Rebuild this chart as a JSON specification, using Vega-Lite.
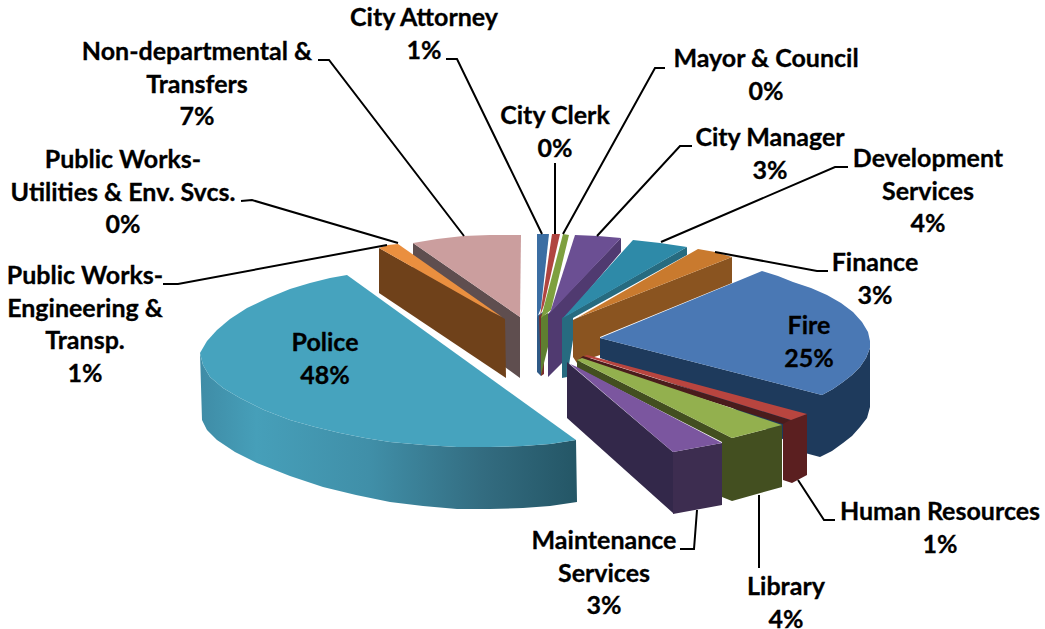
{
  "$schema": "https://vega.github.io/schema/vega-lite/v6.json",
  "width": 1045,
  "height": 629,
  "padding": 0,
  "autosize": {"type": "none"},
  "background": "white",
  "view": {"stroke": null},
  "datasets": {
    "faces": [
      {"p":"nd_wall","x":413,"y":243},{"p":"nd_wall","x":520,"y":317},{"p":"nd_wall","x":520,"y":378},{"p":"nd_wall","x":413,"y":300},
      {"p":"nd_top","x":413,"y":243},{"p":"nd_top","x":437,"y":239},{"p":"nd_top","x":463,"y":236},{"p":"nd_top","x":490,"y":235},{"p":"nd_top","x":521,"y":235},{"p":"nd_top","x":520,"y":317},
      {"p":"eng_wall","x":379,"y":248},{"p":"eng_wall","x":505,"y":319},{"p":"eng_wall","x":506,"y":378},{"p":"eng_wall","x":379,"y":293},
      {"p":"eng_top","x":379,"y":248},{"p":"eng_top","x":388,"y":245},{"p":"eng_top","x":398,"y":244},{"p":"eng_top","x":502,"y":317},{"p":"eng_top","x":490,"y":311},
      {"p":"att_wall","x":537,"y":316},{"p":"att_wall","x":543,"y":312},{"p":"att_wall","x":543,"y":370},{"p":"att_wall","x":541,"y":376},{"p":"att_wall","x":537,"y":372},
      {"p":"att_top","x":537,"y":234},{"p":"att_top","x":549,"y":234},{"p":"att_top","x":541,"y":308},{"p":"att_top","x":537,"y":318},
      {"p":"clk_wall","x":539,"y":316},{"p":"clk_wall","x":544,"y":312},{"p":"clk_wall","x":544,"y":374},{"p":"clk_wall","x":541,"y":376},
      {"p":"clk_top","x":552,"y":234},{"p":"clk_top","x":560,"y":234},{"p":"clk_top","x":544,"y":305},{"p":"clk_top","x":540,"y":316},
      {"p":"may_wall","x":541,"y":317},{"p":"may_wall","x":548,"y":313},{"p":"may_wall","x":548,"y":347},{"p":"may_wall","x":541,"y":375},
      {"p":"may_top","x":563,"y":234},{"p":"may_top","x":569,"y":235},{"p":"may_top","x":551,"y":310},{"p":"may_top","x":541,"y":318},
      {"p":"mgr_wall","x":621,"y":238},{"p":"mgr_wall","x":621,"y":252},{"p":"mgr_wall","x":565,"y":318},{"p":"mgr_wall","x":562,"y":363},{"p":"mgr_wall","x":548,"y":377},{"p":"mgr_wall","x":548,"y":314},
      {"p":"mgr_top","x":575,"y":235},{"p":"mgr_top","x":598,"y":236},{"p":"mgr_top","x":621,"y":238},{"p":"mgr_top","x":550,"y":313},
      {"p":"dev_wall","x":687,"y":247},{"p":"dev_wall","x":687,"y":255},{"p":"dev_wall","x":573,"y":318},{"p":"dev_wall","x":573,"y":340},{"p":"dev_wall","x":567,"y":377},{"p":"dev_wall","x":562,"y":378},{"p":"dev_wall","x":562,"y":318},
      {"p":"dev_top","x":633,"y":240},{"p":"dev_top","x":660,"y":243},{"p":"dev_top","x":687,"y":247},{"p":"dev_top","x":563,"y":318},
      {"p":"fin_wall","x":577,"y":318},{"p":"fin_wall","x":732,"y":257},{"p":"fin_wall","x":732,"y":283},{"p":"fin_wall","x":600,"y":337},{"p":"fin_wall","x":600,"y":355},{"p":"fin_wall","x":577,"y":363},{"p":"fin_wall","x":573,"y":357},{"p":"fin_wall","x":573,"y":320},
      {"p":"fin_top","x":698,"y":249},{"p":"fin_top","x":715,"y":252},{"p":"fin_top","x":732,"y":257},{"p":"fin_top","x":577,"y":318},
      {"p":"fire_wall","x":600,"y":338},{"p":"fire_wall","x":822,"y":395},{"p":"fire_wall","x":833,"y":389},{"p":"fire_wall","x":843,"y":382},{"p":"fire_wall","x":852,"y":375},{"p":"fire_wall","x":860,"y":367},{"p":"fire_wall","x":866,"y":358},{"p":"fire_wall","x":870,"y":348},{"p":"fire_wall","x":870,"y":407},{"p":"fire_wall","x":867,"y":418},{"p":"fire_wall","x":860,"y":427},{"p":"fire_wall","x":852,"y":436},{"p":"fire_wall","x":843,"y":443},{"p":"fire_wall","x":832,"y":451},{"p":"fire_wall","x":820,"y":457},{"p":"fire_wall","x":805,"y":453},{"p":"fire_wall","x":720,"y":400},{"p":"fire_wall","x":600,"y":358},
      {"p":"fire_top","x":600,"y":338},{"p":"fire_top","x":762,"y":271},{"p":"fire_top","x":778,"y":276},{"p":"fire_top","x":793,"y":282},{"p":"fire_top","x":811,"y":288},{"p":"fire_top","x":827,"y":295},{"p":"fire_top","x":841,"y":303},{"p":"fire_top","x":853,"y":312},{"p":"fire_top","x":862,"y":322},{"p":"fire_top","x":868,"y":332},{"p":"fire_top","x":870,"y":341},{"p":"fire_top","x":870,"y":348},{"p":"fire_top","x":866,"y":358},{"p":"fire_top","x":860,"y":367},{"p":"fire_top","x":852,"y":375},{"p":"fire_top","x":843,"y":382},{"p":"fire_top","x":833,"y":389},{"p":"fire_top","x":822,"y":395},
      {"p":"hr_wall","x":783,"y":423},{"p":"hr_wall","x":790,"y":420},{"p":"hr_wall","x":807,"y":414},{"p":"hr_wall","x":807,"y":475},{"p":"hr_wall","x":792,"y":483},{"p":"hr_wall","x":783,"y":480},
      {"p":"hr_strip","x":583,"y":356},{"p":"hr_strip","x":790,"y":420},{"p":"hr_strip","x":783,"y":424},{"p":"hr_strip","x":578,"y":360},
      {"p":"hr_top","x":584,"y":356},{"p":"hr_top","x":587,"y":355},{"p":"hr_top","x":807,"y":414},{"p":"hr_top","x":791,"y":420},
      {"p":"lib_wall","x":577,"y":360},{"p":"lib_wall","x":732,"y":438},{"p":"lib_wall","x":782,"y":425},{"p":"lib_wall","x":782,"y":487},{"p":"lib_wall","x":732,"y":501},{"p":"lib_wall","x":722,"y":497},{"p":"lib_wall","x":722,"y":442},{"p":"lib_wall","x":577,"y":368},
      {"p":"lib_top","x":577,"y":360},{"p":"lib_top","x":582,"y":358},{"p":"lib_top","x":782,"y":425},{"p":"lib_top","x":732,"y":438},
      {"p":"mnt_side","x":567,"y":362},{"p":"mnt_side","x":673,"y":452},{"p":"mnt_side","x":673,"y":513},{"p":"mnt_side","x":567,"y":418},
      {"p":"mnt_front","x":673,"y":452},{"p":"mnt_front","x":722,"y":443},{"p":"mnt_front","x":722,"y":505},{"p":"mnt_front","x":673,"y":514},
      {"p":"mnt_top","x":570,"y":364},{"p":"mnt_top","x":577,"y":367},{"p":"mnt_top","x":722,"y":443},{"p":"mnt_top","x":673,"y":452}
    ],
    "policeWall": [
      {"x":200,"y":353},{"x":203,"y":365},{"x":210,"y":377},{"x":223,"y":388},{"x":240,"y":398},{"x":264,"y":410},{"x":290,"y":420},{"x":315,"y":427},{"x":340,"y":433},{"x":365,"y":438},{"x":390,"y":442},{"x":424,"y":445},{"x":457,"y":447},{"x":490,"y":447},{"x":523,"y":446},{"x":550,"y":444},{"x":576,"y":440},{"x":577,"y":502},{"x":550,"y":506},{"x":523,"y":508},{"x":490,"y":509},{"x":457,"y":509},{"x":423,"y":506},{"x":390,"y":502},{"x":356,"y":495},{"x":323,"y":487},{"x":290,"y":476},{"x":257,"y":463},{"x":235,"y":452},{"x":217,"y":440},{"x":207,"y":430},{"x":202,"y":420}
    ],
    "policeTop": [
      {"x":347,"y":275},{"x":330,"y":278},{"x":310,"y":283},{"x":290,"y":289},{"x":268,"y":298},{"x":247,"y":308},{"x":230,"y":319},{"x":217,"y":330},{"x":207,"y":341},{"x":200,"y":353},{"x":203,"y":365},{"x":210,"y":377},{"x":223,"y":388},{"x":240,"y":398},{"x":264,"y":410},{"x":290,"y":420},{"x":315,"y":427},{"x":340,"y":433},{"x":365,"y":438},{"x":390,"y":442},{"x":424,"y":445},{"x":457,"y":447},{"x":490,"y":447},{"x":523,"y":446},{"x":550,"y":444},{"x":576,"y":440}
    ],
    "leaders": [
      {"k":"Non-departmental","x":318,"y":60},{"k":"Non-departmental","x":329,"y":60},{"k":"Non-departmental","x":464,"y":236},
      {"k":"City Attorney","x":446,"y":59},{"k":"City Attorney","x":457,"y":59},{"k":"City Attorney","x":542,"y":234},
      {"k":"Utilities","x":241,"y":201},{"k":"Utilities","x":252,"y":200},{"k":"Utilities","x":398,"y":243},
      {"k":"Engineering","x":163,"y":284},{"k":"Engineering","x":178,"y":284},{"k":"Engineering","x":387,"y":245},
      {"k":"Mayor","x":665,"y":68},{"k":"Mayor","x":655,"y":68},{"k":"Mayor","x":563,"y":234},
      {"k":"City Clerk","x":555,"y":163},{"k":"City Clerk","x":555,"y":234},
      {"k":"City Manager","x":692,"y":146},{"k":"City Manager","x":680,"y":146},{"k":"City Manager","x":597,"y":236},
      {"k":"Development","x":848,"y":167},{"k":"Development","x":835,"y":167},{"k":"Development","x":661,"y":242},
      {"k":"Finance","x":828,"y":271},{"k":"Finance","x":817,"y":271},{"k":"Finance","x":715,"y":252},
      {"k":"Human Resources","x":835,"y":520},{"k":"Human Resources","x":824,"y":520},{"k":"Human Resources","x":798,"y":480},
      {"k":"Library","x":759,"y":495},{"k":"Library","x":759,"y":568},
      {"k":"Maintenance","x":680,"y":549},{"k":"Maintenance","x":694,"y":549},{"k":"Maintenance","x":697,"y":510}
    ],
    "labels": [
      {"t":"City Attorney\n1%","x":424,"y":18},
      {"t":"Non-departmental &\nTransfers\n7%","x":197,"y":52},
      {"t":"Public Works-\nUtilities & Env. Svcs.\n0%","x":123,"y":160},
      {"t":"Public Works-\nEngineering &\nTransp.\n1%","x":85,"y":276},
      {"t":"City Clerk\n0%","x":555,"y":116},
      {"t":"Mayor & Council\n0%","x":766,"y":59},
      {"t":"City Manager\n3%","x":770,"y":138},
      {"t":"Development\nServices\n4%","x":928,"y":159},
      {"t":"Finance\n3%","x":875,"y":263},
      {"t":"Fire\n25%","x":809,"y":326},
      {"t":"Police\n48%","x":325,"y":343},
      {"t":"Human Resources\n1%","x":940,"y":512},
      {"t":"Library\n4%","x":786,"y":587},
      {"t":"Maintenance\nServices\n3%","x":604,"y":541}
    ]
  },
  "layer": [
    {
      "data": {"name": "faces"},
      "mark": {"type": "line", "interpolate": "linear-closed", "strokeOpacity": 0},
      "encoding": {
        "x": {"field": "x", "type": "quantitative", "scale": {"domain": [0, 1045], "nice": false, "zero": false}, "axis": null},
        "y": {"field": "y", "type": "quantitative", "scale": {"domain": [629, 0], "nice": false, "zero": false}, "axis": null},
        "order": {"value": null},
        "fill": {
          "field": "p",
          "type": "nominal",
          "legend": null,
          "scale": {
            "domain": ["nd_wall","nd_top","eng_wall","eng_top","att_wall","att_top","clk_wall","clk_top","may_wall","may_top","mgr_wall","mgr_top","dev_wall","dev_top","fin_wall","fin_top","fire_wall","fire_top","hr_wall","hr_strip","hr_top","lib_wall","lib_top","mnt_side","mnt_front","mnt_top"],
            "range": ["#5f4e4f","#cb9e9e","#6f411a","#ea8f3f","#2f5a87","#3b6ea3","#7a2f2c","#b04540","#5f7f30","#7ea03f","#503a70","#6b4f93","#276b80","#2e8aa8","#8a5420","#c97a2e","#1e3a5c","#4a78b4","#5b1f20","#4a1c1c","#b8453f","#434f20","#93b04e","#33284a","#3d2d50","#7b569f"]
          }
        }
      }
    },
    {
      "data": {"name": "policeWall"},
      "mark": {
        "type": "line",
        "interpolate": "linear-closed",
        "strokeOpacity": 0,
        "fill": {"gradient": "linear", "x1": 0, "y1": 0, "x2": 1, "y2": 0, "stops": [
          {"offset": 0, "color": "#3f8ca6"},
          {"offset": 0.15, "color": "#469fb9"},
          {"offset": 0.45, "color": "#408fa8"},
          {"offset": 0.75, "color": "#336c80"},
          {"offset": 1, "color": "#245666"}
        ]}
      },
      "encoding": {
        "x": {"field": "x", "type": "quantitative"},
        "y": {"field": "y", "type": "quantitative"},
        "order": {"value": null}
      }
    },
    {
      "data": {"name": "policeTop"},
      "mark": {"type": "line", "interpolate": "linear-closed", "strokeOpacity": 0, "fill": "#46a3be"},
      "encoding": {
        "x": {"field": "x", "type": "quantitative"},
        "y": {"field": "y", "type": "quantitative"},
        "order": {"value": null}
      }
    },
    {
      "data": {"name": "leaders"},
      "mark": {"type": "line", "color": "black", "strokeWidth": 2},
      "encoding": {
        "x": {"field": "x", "type": "quantitative"},
        "y": {"field": "y", "type": "quantitative"},
        "detail": {"field": "k"},
        "order": {"value": null}
      }
    },
    {
      "data": {"name": "labels"},
      "mark": {"type": "text", "font": "Lato", "fontWeight": "bold", "fontSize": 25, "lineBreak": "\n", "lineHeight": 32.5, "align": "center", "baseline": "middle", "color": "black", "stroke": "black", "strokeWidth": 0.3},
      "encoding": {
        "x": {"field": "x", "type": "quantitative"},
        "y": {"field": "y", "type": "quantitative"},
        "text": {"field": "t"}
      }
    }
  ]
}
